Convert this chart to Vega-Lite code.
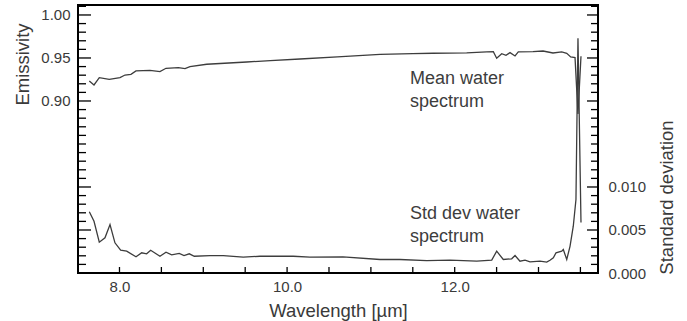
{
  "$schema": "https://vega.github.io/schema/vega-lite/v6.json",
  "width": 520,
  "height": 268,
  "autosize": "none",
  "padding": {"left": 78, "top": 5, "right": 89, "bottom": 48},
  "background": "white",
  "config": {
    "view": {"stroke": "black", "strokeWidth": 2},
    "axis": {"grid": false}
  },
  "datasets": {
    "mean": [
      {"w": 7.640, "v": 0.9233}, {"w": 7.696, "v": 0.9186}, {"w": 7.759, "v": 0.9271},
      {"w": 7.878, "v": 0.9252}, {"w": 8.006, "v": 0.9271}, {"w": 8.066, "v": 0.9302},
      {"w": 8.137, "v": 0.9310}, {"w": 8.197, "v": 0.9349}, {"w": 8.364, "v": 0.9357},
      {"w": 8.483, "v": 0.9341}, {"w": 8.555, "v": 0.9380}, {"w": 8.702, "v": 0.9387},
      {"w": 8.782, "v": 0.9376}, {"w": 8.841, "v": 0.9399}, {"w": 9.041, "v": 0.9427},
      {"w": 9.518, "v": 0.9453}, {"w": 9.800, "v": 0.9470}, {"w": 10.154, "v": 0.9488},
      {"w": 10.600, "v": 0.9512}, {"w": 11.109, "v": 0.9543}, {"w": 11.500, "v": 0.9550},
      {"w": 11.741, "v": 0.9555}, {"w": 12.143, "v": 0.9560}, {"w": 12.382, "v": 0.9570},
      {"w": 12.461, "v": 0.9573}, {"w": 12.501, "v": 0.9497}, {"w": 12.561, "v": 0.9550},
      {"w": 12.612, "v": 0.9531}, {"w": 12.660, "v": 0.9562}, {"w": 12.720, "v": 0.9523},
      {"w": 12.759, "v": 0.9570}, {"w": 12.934, "v": 0.9573}, {"w": 13.054, "v": 0.9581},
      {"w": 13.173, "v": 0.9558}, {"w": 13.277, "v": 0.9570}, {"w": 13.337, "v": 0.9555},
      {"w": 13.384, "v": 0.9512}, {"w": 13.436, "v": 0.9504}, {"w": 13.471, "v": 0.885},
      {"w": 13.507, "v": 0.952}
    ],
    "std": [
      {"w": 7.640, "s": 0.00712}, {"w": 7.696, "s": 0.00602}, {"w": 7.759, "s": 0.00358},
      {"w": 7.827, "s": 0.00409}, {"w": 7.887, "s": 0.00564}, {"w": 7.946, "s": 0.00351},
      {"w": 8.014, "s": 0.00265}, {"w": 8.086, "s": 0.00254}, {"w": 8.197, "s": 0.00188},
      {"w": 8.265, "s": 0.00235}, {"w": 8.324, "s": 0.00223}, {"w": 8.372, "s": 0.00265},
      {"w": 8.483, "s": 0.00195}, {"w": 8.555, "s": 0.00242}, {"w": 8.623, "s": 0.00212},
      {"w": 8.713, "s": 0.00227}, {"w": 8.770, "s": 0.00203}, {"w": 8.833, "s": 0.00223},
      {"w": 8.893, "s": 0.00195}, {"w": 9.080, "s": 0.00203}, {"w": 9.239, "s": 0.00203},
      {"w": 9.477, "s": 0.00184}, {"w": 9.677, "s": 0.00195}, {"w": 10.074, "s": 0.00195},
      {"w": 10.273, "s": 0.00184}, {"w": 10.667, "s": 0.00188}, {"w": 11.109, "s": 0.00157},
      {"w": 11.347, "s": 0.00157}, {"w": 11.666, "s": 0.00145}, {"w": 11.944, "s": 0.00149},
      {"w": 12.263, "s": 0.00137}, {"w": 12.442, "s": 0.00149}, {"w": 12.501, "s": 0.00254},
      {"w": 12.580, "s": 0.00157}, {"w": 12.680, "s": 0.00165}, {"w": 12.720, "s": 0.00203},
      {"w": 12.779, "s": 0.00137}, {"w": 12.839, "s": 0.00149}, {"w": 12.899, "s": 0.00130},
      {"w": 13.018, "s": 0.00137}, {"w": 13.098, "s": 0.00126}, {"w": 13.137, "s": 0.00149},
      {"w": 13.177, "s": 0.00177}, {"w": 13.209, "s": 0.00235}, {"w": 13.277, "s": 0.00254},
      {"w": 13.296, "s": 0.00273}, {"w": 13.337, "s": 0.00157}, {"w": 13.376, "s": 0.00310},
      {"w": 13.415, "s": 0.00544}, {"w": 13.447, "s": 0.00855}, {"w": 13.471, "s": 0.0273},
      {"w": 13.507, "s": 0.00587}
    ],
    "majorTicks": [{"v": 0.75}, {"v": 0.8}, {"v": 0.9}, {"v": 0.95}, {"v": 1.0}],
    "minorTicks": [
      {"v": 0.71}, {"v": 0.72}, {"v": 0.73}, {"v": 0.74}, {"v": 0.76}, {"v": 0.77}, {"v": 0.78}, {"v": 0.79},
      {"v": 0.81}, {"v": 0.82}, {"v": 0.83}, {"v": 0.84}, {"v": 0.85}, {"v": 0.86}, {"v": 0.87}, {"v": 0.88},
      {"v": 0.89}, {"v": 0.91}, {"v": 0.92}, {"v": 0.93}, {"v": 0.94}, {"v": 0.96}, {"v": 0.97}, {"v": 0.98},
      {"v": 0.99}, {"v": 1.01}
    ],
    "xTicks": [
      {"w": 8}, {"w": 8.5}, {"w": 9}, {"w": 9.5}, {"w": 10}, {"w": 10.5},
      {"w": 11}, {"w": 11.5}, {"w": 12}, {"w": 12.5}, {"w": 13}, {"w": 13.5}
    ],
    "meanLabel": [{"w": 11.467, "v": 0.936, "t": ["Mean water", "spectrum"]}],
    "stdLabel": [{"w": 11.467, "s": 0.00785, "t": ["Std dev water", "spectrum"]}]
  },
  "layer": [
    {
      "data": {"name": "mean"},
      "mark": {"type": "line", "color": "#3d3d3d", "strokeWidth": 1.3},
      "encoding": {
        "x": {
          "field": "w", "type": "quantitative",
          "scale": {"domain": [7.505, 13.71], "nice": false, "zero": false},
          "axis": {
            "orient": "bottom",
            "values": [8, 10, 12],
            "format": ".1f",
            "ticks": false,
            "labelPadding": 6,
            "labelFont": "Liberation Sans", "labelFontSize": 15, "labelColor": "#3a3a3a",
            "title": "Wavelength [µm]",
            "titleFont": "Liberation Sans", "titleFontSize": 18.5, "titleFontWeight": "normal", "titleColor": "#3a3a3a",
            "titleY": 37,
            "titleBaseline": "middle",
            "domain": false
          }
        },
        "y": {
          "field": "v", "type": "quantitative",
          "scale": {"domain": [0.7, 1.0116], "nice": false, "zero": false},
          "axis": {
            "orient": "left",
            "values": [0.9, 0.95, 1.0],
            "format": ".2f",
            "ticks": false,
            "domain": false,
            "labelPadding": 8,
            "labelFont": "Liberation Sans", "labelFontSize": 15, "labelColor": "#3a3a3a",
            "title": "Emissivity",
            "titleFont": "Liberation Sans", "titleFontSize": 18.5, "titleFontWeight": "normal", "titleColor": "#3a3a3a",
            "titleX": -56,
            "titleY": 59,
            "titleAngle": -90,
            "titleBaseline": "middle"
          }
        }
      }
    },
    {
      "data": {"name": "std"},
      "mark": {"type": "line", "color": "#3d3d3d", "strokeWidth": 1.3},
      "encoding": {
        "x": {
          "field": "w", "type": "quantitative",
          "scale": {"domain": [7.505, 13.71], "nice": false, "zero": false},
          "axis": null
        },
        "y": {
          "field": "s", "type": "quantitative",
          "scale": {"domain": [0, 0.03116], "nice": false, "zero": false},
          "axis": {
            "orient": "right",
            "values": [0, 0.005, 0.01],
            "format": ".3f",
            "ticks": false,
            "domain": false,
            "labelPadding": 10,
            "labelFont": "Liberation Sans", "labelFontSize": 15, "labelColor": "#3a3a3a",
            "title": "Standard deviation",
            "titleFont": "Liberation Sans", "titleFontSize": 18.5, "titleFontWeight": "normal", "titleColor": "#3a3a3a",
            "titleX": 68,
            "titleY": 192,
            "titleAngle": -90,
            "titleBaseline": "middle"
          }
        }
      }
    },
    {
      "data": {"name": "majorTicks"},
      "mark": {"type": "tick", "orient": "horizontal", "size": 26, "thickness": 1.3, "color": "black", "opacity": 1, "clip": true},
      "encoding": {
        "x": {"datum": 7.505, "type": "quantitative", "scale": {"domain": [7.505, 13.71], "nice": false, "zero": false}, "axis": null},
        "y": {"field": "v", "type": "quantitative", "scale": {"domain": [0.7, 1.0116], "nice": false, "zero": false}, "axis": null}
      }
    },
    {
      "data": {"name": "minorTicks"},
      "mark": {"type": "tick", "orient": "horizontal", "size": 16, "thickness": 1.3, "color": "black", "opacity": 1, "clip": true},
      "encoding": {
        "x": {"datum": 7.505, "type": "quantitative", "scale": {"domain": [7.505, 13.71], "nice": false, "zero": false}, "axis": null},
        "y": {"field": "v", "type": "quantitative", "scale": {"domain": [0.7, 1.0116], "nice": false, "zero": false}, "axis": null}
      }
    },
    {
      "data": {"name": "majorTicks"},
      "mark": {"type": "tick", "orient": "horizontal", "size": 22, "thickness": 1.3, "color": "black", "opacity": 1, "clip": true},
      "encoding": {
        "x": {"datum": 13.71, "type": "quantitative", "scale": {"domain": [7.505, 13.71], "nice": false, "zero": false}, "axis": null},
        "y": {"field": "v", "type": "quantitative", "scale": {"domain": [0.7, 1.0116], "nice": false, "zero": false}, "axis": null}
      }
    },
    {
      "data": {"name": "minorTicks"},
      "mark": {"type": "tick", "orient": "horizontal", "size": 14, "thickness": 1.3, "color": "black", "opacity": 1, "clip": true},
      "encoding": {
        "x": {"datum": 13.71, "type": "quantitative", "scale": {"domain": [7.505, 13.71], "nice": false, "zero": false}, "axis": null},
        "y": {"field": "v", "type": "quantitative", "scale": {"domain": [0.7, 1.0116], "nice": false, "zero": false}, "axis": null}
      }
    },
    {
      "data": {"name": "xTicks"},
      "mark": {"type": "tick", "orient": "vertical", "size": 12, "thickness": 1.3, "color": "black", "opacity": 1, "clip": true},
      "encoding": {
        "x": {"field": "w", "type": "quantitative", "scale": {"domain": [7.505, 13.71], "nice": false, "zero": false}, "axis": null},
        "y": {"datum": 0.7, "type": "quantitative", "scale": {"domain": [0.7, 1.0116], "nice": false, "zero": false}, "axis": null}
      }
    },
    {
      "data": {"name": "meanLabel"},
      "mark": {"type": "text", "align": "left", "baseline": "top", "fontSize": 18, "lineHeight": 23, "color": "#3d3d3d", "font": "Liberation Sans"},
      "encoding": {
        "x": {"field": "w", "type": "quantitative", "scale": {"domain": [7.505, 13.71], "nice": false, "zero": false}, "axis": null},
        "y": {"field": "v", "type": "quantitative", "scale": {"domain": [0.7, 1.0116], "nice": false, "zero": false}, "axis": null},
        "text": {"field": "t"}
      }
    },
    {
      "data": {"name": "stdLabel"},
      "mark": {"type": "text", "align": "left", "baseline": "top", "fontSize": 18, "lineHeight": 23, "color": "#3d3d3d", "font": "Liberation Sans"},
      "encoding": {
        "x": {"field": "w", "type": "quantitative", "scale": {"domain": [7.505, 13.71], "nice": false, "zero": false}, "axis": null},
        "y": {"field": "s", "type": "quantitative", "scale": {"domain": [0, 0.03116], "nice": false, "zero": false}, "axis": null},
        "text": {"field": "t"}
      }
    }
  ],
  "resolve": {"scale": {"y": "independent"}, "axis": {"x": "independent", "y": "independent"}}
}
